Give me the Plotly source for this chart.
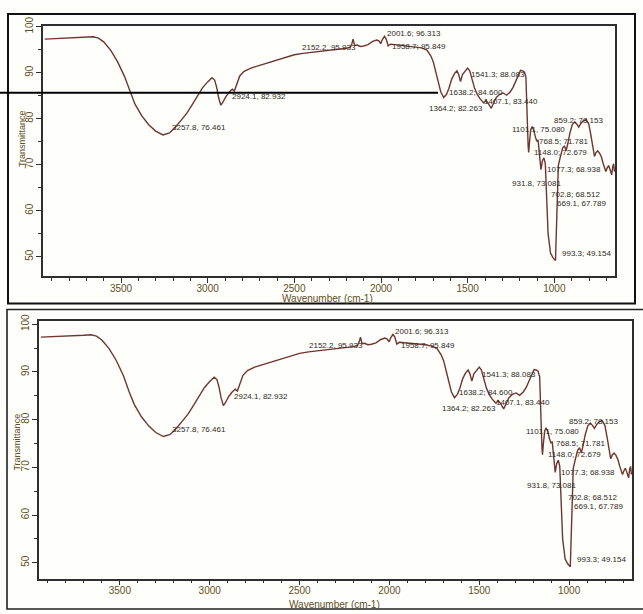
import plotly.graph_objects as go

W, H = 643, 614

# FTIR spectrum: wavenumber (cm-1) and transmittance (%) along the trace
trace_wn = [3940, 3900, 3850, 3800, 3750, 3700, 3660, 3630, 3600, 3560, 3520, 3480,
            3448, 3420, 3380, 3340, 3300, 3220, 3188, 3150, 3120, 3090, 3060, 3030,
            3000, 2975, 2960, 2948, 2937, 2912, 2895, 2875, 2858, 2846, 2835, 2815,
            2790, 2750, 2700, 2650, 2600, 2550, 2500, 2450, 2400, 2350, 2300, 2250,
            2200, 2178, 2168, 2161, 2138, 2120, 2100, 2075, 2048, 2025, 2012, 1992,
            1980, 1970, 1945, 1920, 1890, 1850, 1800, 1765, 1735, 1712, 1698, 1684,
            1670, 1655, 1622, 1608, 1592, 1576, 1562, 1552, 1530, 1515, 1500, 1488,
            1475, 1460, 1445, 1428, 1395, 1382, 1350, 1335, 1315, 1295, 1275, 1255,
            1238, 1222, 1208, 1195, 1183, 1172, 1164, 1159, 1155, 1151, 1143, 1136,
            1128, 1118, 1109, 1094, 1087, 1069, 1060, 1052, 1045, 1036, 1022, 1008,
            988, 983, 977, 966, 952, 942, 922, 910, 896, 882, 870, 848, 832, 816,
            801, 789, 778, 760, 750, 739, 728, 718, 710, 695, 687, 679, 663, 658, 653]
trace_t = [97.3, 97.35, 97.4, 97.5, 97.6, 97.7, 97.8, 97.5, 96.7, 94.9, 92.4, 89.2,
           85.8, 83.2, 80.6, 78.7, 77.3, 76.9, 78.1, 79.8, 81.2, 83.0, 85.0, 86.7,
           88.0, 88.9, 88.4, 86.8, 84.6, 83.6, 84.8, 85.8, 86.4, 86.0, 87.3, 89.3,
           90.3, 91.0, 91.6, 92.2, 92.7, 93.3, 93.9, 94.2, 94.4, 94.6, 94.8, 95.0,
           95.3, 95.5, 96.3, 97.3, 96.0, 95.7, 95.8, 96.1, 96.8, 97.1, 96.9, 97.2,
           97.9, 97.3, 96.2, 96.1, 96.0, 95.9, 95.7, 95.4, 94.9, 93.6, 92.3, 90.2,
           88.0, 85.8, 85.3, 86.6, 88.6, 89.8, 90.4, 89.6, 89.6, 90.2, 91.0, 90.4,
           88.5, 86.6, 85.3, 84.3, 84.0, 83.4, 83.4, 84.6, 85.3, 85.6, 85.1, 85.8,
           86.8, 88.3, 89.6, 90.5, 90.4, 90.1, 89.0, 85.0, 78.5, 74.0, 75.0, 77.6,
           78.3, 77.4, 76.0, 75.4, 72.8, 70.8, 71.5, 70.2, 63.0, 55.0, 50.8, 49.8,
           54.5, 63.5, 69.8, 71.6, 73.6, 74.1, 74.6, 76.9, 78.7, 79.3, 78.8, 78.9,
           79.6, 79.8, 78.8, 76.4, 73.6, 72.6, 73.0, 72.5, 71.6, 70.2, 69.2, 69.3,
           69.8, 69.0, 69.6, 70.2, 68.5]

# Labelled bands
peak_wn = [3257.8, 2924.1, 2152.2, 2001.6, 1958.7, 1638.2, 1541.3, 1407.1, 1364.2,
           1148.0, 1101.1, 1077.3, 993.3, 931.8, 859.2, 768.5, 702.8, 669.1]
peak_t = [76.461, 82.932, 95.933, 96.313, 95.849, 84.600, 88.083, 83.440, 82.263,
          72.679, 75.080, 68.938, 49.154, 73.081, 78.153, 71.781, 68.512, 67.789]
peak_sep = [", ", ", ", ", ", "; ", "; ", "; ", "; ", ", ", "; ",
            "; ", ", ", "; ", "; ", ", ", "; ", "; ", "; ", ", "]
# label placement: pixel offset from the band and text anchor
peak_dx = [7, 9, 3, 4, 2, 3, 8, -2, -6, 3, -27, 4, 5, -3, -27, -4, -4, -4]
peak_dy = [7, 9, -2, 10, -1, 5, 7, 1, 0, 0, 12, 0, 7, -33, 7, 15, -23, -29]
peak_anchor = ["left", "left", "right", "left", "left", "left", "left", "left", "right",
               "left", "left", "left", "left", "right", "left", "right", "right", "right"]

x_ticks = [1000, 1500, 2000, 2500, 3000, 3500]
y_ticks = [50, 60, 70, 80, 90, 100]

pts = sorted(zip(trace_wn + peak_wn, trace_t + peak_t), reverse=True)
wn = [p[0] for p in pts]
tr = [p[1] for p in pts]


def px(x):
    return x / W


def py(y):
    return 1 - y / H


LINE = "#6f3530"
FRAME = "#2f2f2f"
TICKTXT = "#5e4f27"
LABTXT = "#2e2a1c"
FONT = "Liberation Sans"

fig = go.Figure()
panels = [
    dict(xa="x", ya="y", xdom=[px(43), px(615)], ydom=[py(271), py(17)], yr=[45.8, 100.2]),
    dict(xa="x2", ya="y2", xdom=[px(39), px(632)], ydom=[py(578), py(317)], yr=[46.7, 100.6]),
]

annotations = []
for i, p in enumerate(panels):
    fig.add_trace(go.Scatter(x=wn, y=tr, mode="lines", xaxis=p["xa"], yaxis=p["ya"],
                             line=dict(color=LINE, width=1.4), showlegend=False,
                             hoverinfo="skip"))
    sfx = "" if i == 0 else "2"
    xaxis = dict(domain=p["xdom"], range=[3950, 650], anchor=p["ya"],
                 showline=True, linecolor=FRAME, linewidth=1.5, mirror=True,
                 ticks="outside", ticklen=5, tickwidth=1.2, tickcolor=FRAME,
                 tickvals=x_ticks, ticktext=[str(v) for v in x_ticks],
                 ticklabelstandoff=-3,
                 tickfont=dict(family=FONT, size=10, color=TICKTXT),
                 minor=dict(dtick=100, tick0=0, ticks="outside", ticklen=3,
                            tickwidth=1, tickcolor=FRAME),
                 showgrid=False, zeroline=False, fixedrange=True)
    yaxis = dict(domain=p["ydom"], range=p["yr"], anchor=p["xa"],
                 showline=True, linecolor=FRAME, linewidth=1.5, mirror=True,
                 ticks="outside", ticklen=5, tickwidth=1.2, tickcolor=FRAME,
                 tickvals=y_ticks, ticktext=[str(v) for v in y_ticks], tickangle=-90,
                 ticklabelstandoff=-1,
                 tickfont=dict(family=FONT, size=10, color=TICKTXT),
                 minor=dict(dtick=5, tick0=0, ticks="outside", ticklen=3,
                            tickwidth=1, tickcolor=FRAME),
                 showgrid=False, zeroline=False, fixedrange=True)
    fig.layout["xaxis" + sfx] = xaxis
    fig.layout["yaxis" + sfx] = yaxis

    for w_, t_, s_, dx, dy, anc in zip(peak_wn, peak_t, peak_sep, peak_dx, peak_dy, peak_anchor):
        annotations.append(dict(x=w_, y=t_, xref=p["xa"], yref=p["ya"],
                                text=f"{w_:.1f}{s_}{t_:.3f}", showarrow=False,
                                xanchor=anc, yanchor="middle", xshift=dx, yshift=dy,
                                font=dict(family=FONT, size=8, color=LABTXT)))

# axis titles
for xc, yc in [(327, 294), (334, 604)]:
    annotations.append(dict(x=px(xc), y=py(yc), xref="paper", yref="paper",
                            text="Wavenumber (cm-1)", showarrow=False,
                            xanchor="center", yanchor="middle",
                            font=dict(family=FONT, size=10, color=TICKTXT)))
for xc, yc in [(22, 132), (17, 440)]:
    annotations.append(dict(x=px(xc), y=py(yc), xref="paper", yref="paper",
                            text="Transmittance", showarrow=False, textangle=-90,
                            xanchor="center", yanchor="middle",
                            font=dict(family=FONT, size=9, color=TICKTXT)))

shapes = [
    dict(type="rect", xref="paper", yref="paper", x0=px(8), x1=px(635),
         y0=py(299), y1=py(5), line=dict(color="#111111", width=2)),
    dict(type="rect", xref="paper", yref="paper", x0=px(7), x1=px(650),
         y0=py(609), y1=py(305), line=dict(color="#222222", width=1.6)),
    dict(type="line", xref="paper", yref="paper", x0=px(0), x1=px(438),
         y0=py(85), y1=py(85), line=dict(color="#000000", width=2)),
]

fig.update_layout(width=W, height=H, autosize=False,
                  margin=dict(l=0, r=0, t=0, b=0),
                  paper_bgcolor="#fefefb", plot_bgcolor="#fefefb",
                  annotations=annotations, shapes=shapes, showlegend=False)

fig.write_html("out.html")
